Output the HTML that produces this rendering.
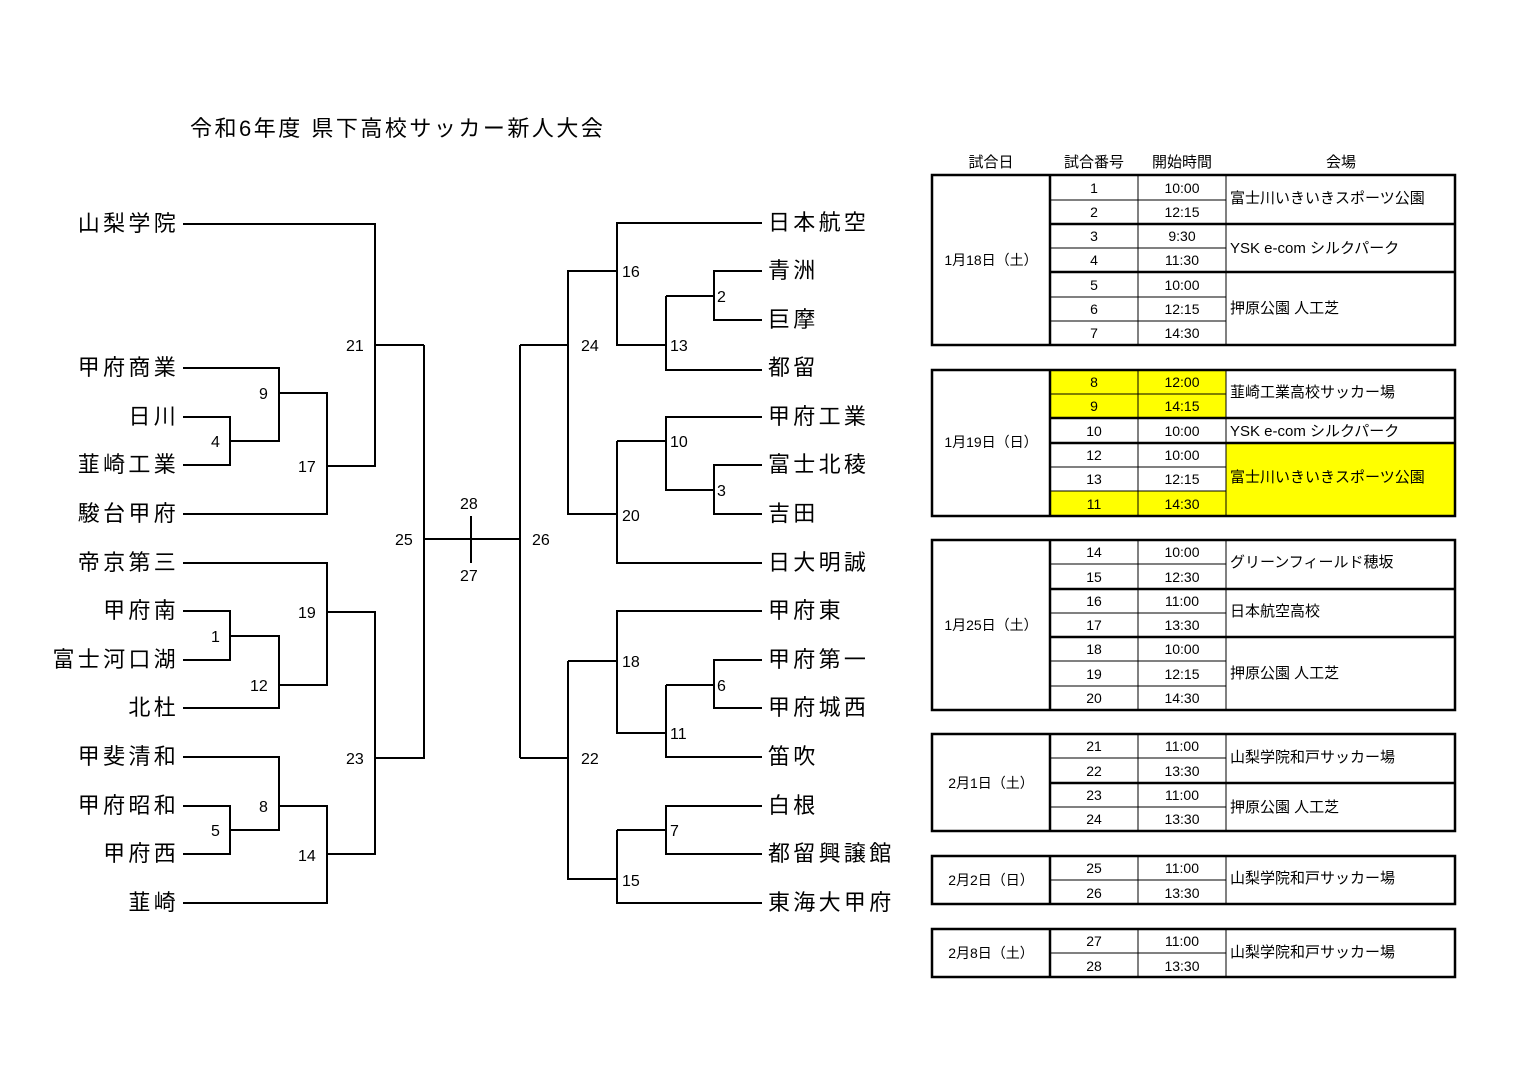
<!DOCTYPE html>
<html><head><meta charset="utf-8"><style>
html,body{margin:0;padding:0;background:#fff;}
svg{display:block;}
text{font-family:"Liberation Sans","Noto Sans CJK JP",sans-serif;fill:#000;}
.t{font-size:22px;letter-spacing:3.3px;}
.n{font-size:16px;}
.s{font-size:14px;}
.v{font-size:15px;}
.h{font-size:15px;}
</style></head><body>
<svg width="1536" height="1086" viewBox="0 0 1536 1086" xmlns="http://www.w3.org/2000/svg">
<text x="190" y="136" style="font-size:22px;letter-spacing:2.5px">令和6年度 県下高校サッカー新人大会</text>

<g fill="none" stroke="#000" stroke-width="2">
<!-- left -->
<path d="M183 224H375V466H327"/>
<path d="M375 345H424"/>
<path d="M183 368H279V441H230"/>
<path d="M183 417H230V465H183"/>
<path d="M279 393H327V514H183"/>
<path d="M327 466H375"/>
<path d="M183 563H327V685H279"/>
<path d="M183 611H230V660H183"/>
<path d="M230 636H279V708H183"/>
<path d="M327 612H375V854H327"/>
<path d="M183 757H279V830H230"/>
<path d="M183 806H230V854H183"/>
<path d="M279 806H327V903H183"/>
<path d="M375 758H424V345"/>
<path d="M424 539H520"/>
<path d="M471 516V563"/>
<!-- right -->
<path d="M520 345V758"/>
<path d="M520 345H568V514H617"/>
<path d="M617 271H568V345"/>
<path d="M762 223H617V345H666"/>
<path d="M762 271H714V320H762"/>
<path d="M666 296H714"/>
<path d="M666 345V370H762"/>
<path d="M666 296V345"/>
<path d="M762 417H666V490H714"/>
<path d="M762 465H714V514H762"/>
<path d="M617 441H666"/>
<path d="M617 441V563H762"/>
<path d="M520 758H568V879H617"/>
<path d="M568 661V758"/>
<path d="M568 661H617"/>
<path d="M762 611H617V733H666"/>
<path d="M762 660H714V708H762"/>
<path d="M666 685H714"/>
<path d="M666 685V757H762"/>
<path d="M617 830H666"/>
<path d="M762 806H666V854H762"/>
<path d="M617 830V903H762"/>
</g>

<g class="t" text-anchor="end">
<text x="179" y="231">山梨学院</text>
<text x="179" y="375">甲府商業</text>
<text x="179" y="424">日川</text>
<text x="179" y="472">韮崎工業</text>
<text x="179" y="521">駿台甲府</text>
<text x="179" y="570">帝京第三</text>
<text x="179" y="618">甲府南</text>
<text x="179" y="667">富士河口湖</text>
<text x="179" y="715">北杜</text>
<text x="179" y="764">甲斐清和</text>
<text x="179" y="813">甲府昭和</text>
<text x="179" y="861">甲府西</text>
<text x="179" y="910">韮崎</text>
</g>
<g class="t">
<text x="768" y="230">日本航空</text>
<text x="768" y="278">青洲</text>
<text x="768" y="327">巨摩</text>
<text x="768" y="375">都留</text>
<text x="768" y="424">甲府工業</text>
<text x="768" y="472">富士北稜</text>
<text x="768" y="521">吉田</text>
<text x="768" y="570">日大明誠</text>
<text x="768" y="618">甲府東</text>
<text x="768" y="667">甲府第一</text>
<text x="768" y="715">甲府城西</text>
<text x="768" y="764">笛吹</text>
<text x="768" y="813">白根</text>
<text x="768" y="861">都留興譲館</text>
<text x="768" y="910">東海大甲府</text>
</g>
<g class="n">
<text x="346" y="351">21</text>
<text x="259" y="399">9</text>
<text x="211" y="447">4</text>
<text x="298" y="472">17</text>
<text x="211" y="642">1</text>
<text x="298" y="618">19</text>
<text x="250" y="691">12</text>
<text x="259" y="812">8</text>
<text x="211" y="836">5</text>
<text x="298" y="861">14</text>
<text x="346" y="764">23</text>
<text x="395" y="545">25</text>
<text x="460" y="509">28</text>
<text x="460" y="581">27</text>
<text x="532" y="545">26</text>
<text x="581" y="351">24</text>
<text x="622" y="277">16</text>
<text x="717" y="302">2</text>
<text x="670" y="351">13</text>
<text x="670" y="447">10</text>
<text x="717" y="496">3</text>
<text x="622" y="521">20</text>
<text x="581" y="764">22</text>
<text x="622" y="667">18</text>
<text x="717" y="691">6</text>
<text x="670" y="739">11</text>
<text x="670" y="836">7</text>
<text x="622" y="886">15</text>
</g>

<!-- table -->
<g class="h" text-anchor="middle">
<text x="991" y="167">試合日</text>
<text x="1094" y="167">試合番号</text>
<text x="1182" y="167">開始時間</text>
<text x="1341" y="167">会場</text>
</g>

<g fill="#ffff00">
<rect x="1050" y="370" width="176" height="48"/>
<rect x="1050" y="491" width="176" height="25"/>
<rect x="1226" y="443" width="229" height="73"/>
</g>

<g fill="none" stroke="#000">
<g stroke-width="1">
<path d="M1138 175V345M1050 200H1226M1050 248H1226M1050 297H1226M1050 321H1226"/>
<path d="M1138 370V516M1050 394H1226M1050 467H1226M1050 491H1226"/>
<path d="M1138 540V710M1050 564H1226M1050 613H1226M1050 661H1226M1050 686H1226"/>
<path d="M1138 734V831M1050 758H1226M1050 807H1226"/>
<path d="M1138 856V904M1050 880H1226"/>
<path d="M1138 929V977M1050 953H1226"/>
<path d="M1226 175V345M1226 370V516M1226 540V710M1226 734V831M1226 856V904M1226 929V977"/>
</g>
<g stroke-width="2.5">
<rect x="932" y="175" width="523" height="170"/>
<path d="M1050 175V345M1050 224H1455M1050 272H1455"/>
<rect x="932" y="370" width="523" height="146"/>
<path d="M1050 370V516M1050 418H1455M1050 443H1455"/>
<rect x="932" y="540" width="523" height="170"/>
<path d="M1050 540V710M1050 589H1455M1050 637H1455"/>
<rect x="932" y="734" width="523" height="97"/>
<path d="M1050 734V831M1050 783H1455"/>
<rect x="932" y="856" width="523" height="48"/>
<path d="M1050 856V904"/>
<rect x="932" y="929" width="523" height="48"/>
<path d="M1050 929V977"/>
</g>
</g>

<g class="s" text-anchor="middle">
<text x="991" y="265">1月18日（土）</text>
<text x="991" y="447">1月19日（日）</text>
<text x="991" y="630">1月25日（土）</text>
<text x="991" y="788">2月1日（土）</text>
<text x="991" y="885">2月2日（日）</text>
<text x="991" y="958">2月8日（土）</text>

<text x="1094" y="193">1</text><text x="1182" y="193">10:00</text>
<text x="1094" y="217">2</text><text x="1182" y="217">12:15</text>
<text x="1094" y="241">3</text><text x="1182" y="241">9:30</text>
<text x="1094" y="265">4</text><text x="1182" y="265">11:30</text>
<text x="1094" y="290">5</text><text x="1182" y="290">10:00</text>
<text x="1094" y="314">6</text><text x="1182" y="314">12:15</text>
<text x="1094" y="338">7</text><text x="1182" y="338">14:30</text>

<text x="1094" y="387">8</text><text x="1182" y="387">12:00</text>
<text x="1094" y="411">9</text><text x="1182" y="411">14:15</text>
<text x="1094" y="436">10</text><text x="1182" y="436">10:00</text>
<text x="1094" y="460">12</text><text x="1182" y="460">10:00</text>
<text x="1094" y="484">13</text><text x="1182" y="484">12:15</text>
<text x="1094" y="509">11</text><text x="1182" y="509">14:30</text>

<text x="1094" y="557">14</text><text x="1182" y="557">10:00</text>
<text x="1094" y="582">15</text><text x="1182" y="582">12:30</text>
<text x="1094" y="606">16</text><text x="1182" y="606">11:00</text>
<text x="1094" y="630">17</text><text x="1182" y="630">13:30</text>
<text x="1094" y="654">18</text><text x="1182" y="654">10:00</text>
<text x="1094" y="679">19</text><text x="1182" y="679">12:15</text>
<text x="1094" y="703">20</text><text x="1182" y="703">14:30</text>

<text x="1094" y="751">21</text><text x="1182" y="751">11:00</text>
<text x="1094" y="776">22</text><text x="1182" y="776">13:30</text>
<text x="1094" y="800">23</text><text x="1182" y="800">11:00</text>
<text x="1094" y="824">24</text><text x="1182" y="824">13:30</text>

<text x="1094" y="873">25</text><text x="1182" y="873">11:00</text>
<text x="1094" y="898">26</text><text x="1182" y="898">13:30</text>

<text x="1094" y="946">27</text><text x="1182" y="946">11:00</text>
<text x="1094" y="971">28</text><text x="1182" y="971">13:30</text>
</g>
<g class="v">
<text x="1230" y="203">富士川いきいきスポーツ公園</text>
<text x="1230" y="253">YSK e-com シルクパーク</text>
<text x="1230" y="313">押原公園 人工芝</text>
<text x="1230" y="397">韮崎工業高校サッカー場</text>
<text x="1230" y="436">YSK e-com シルクパーク</text>
<text x="1230" y="482">富士川いきいきスポーツ公園</text>
<text x="1230" y="567">グリーンフィールド穂坂</text>
<text x="1230" y="616">日本航空高校</text>
<text x="1230" y="678">押原公園 人工芝</text>
<text x="1230" y="762">山梨学院和戸サッカー場</text>
<text x="1230" y="812">押原公園 人工芝</text>
<text x="1230" y="883">山梨学院和戸サッカー場</text>
<text x="1230" y="957">山梨学院和戸サッカー場</text>
</g>
</svg>
</body></html>
